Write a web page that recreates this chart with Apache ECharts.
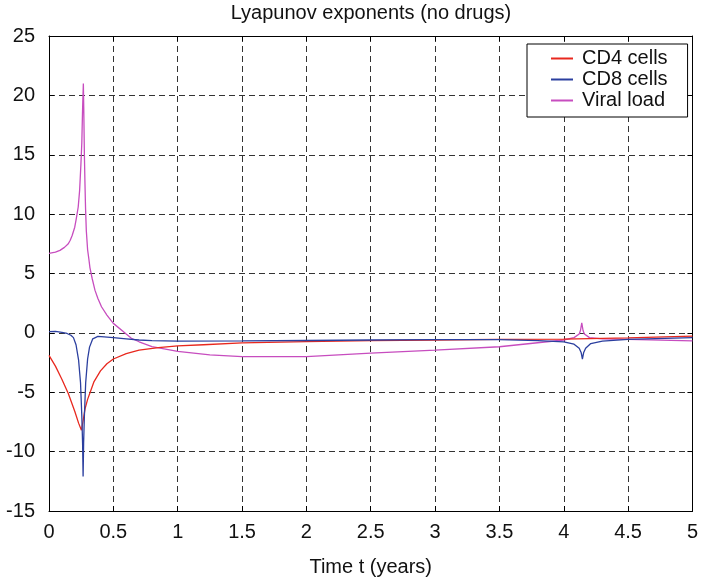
<!DOCTYPE html>
<html>
<head>
<meta charset="utf-8">
<script src="https://cdn.jsdelivr.net/npm/echarts@6/dist/echarts.min.js"></script>
<style>html,body{margin:0;padding:0;background:#fff}#chart{width:701px;height:583px}</style>
</head>
<body>
<div id="chart"></div>
<script>
// ---- data ----
var titleText = 'Lyapunov exponents (no drugs)';
var xAxisName = 'Time t (years)';
var seriesNames = ['CD4 cells', 'CD8 cells', 'Viral load'];

var cd4Time   = [0, 0.05, 0.1, 0.15, 0.2, 0.23, 0.252, 0.265, 0.28, 0.3, 0.32, 0.35, 0.4, 0.45, 0.5, 0.6, 0.7, 0.85, 1.0, 1.2, 1.5, 2.0, 2.5, 3.0, 3.5, 4.0, 4.5, 5.0];
var cd4Values = [-1.9, -2.8, -3.9, -5.1, -6.6, -7.6, -8.2, -7.4, -6.4, -5.6, -5.0, -4.1, -3.2, -2.6, -2.2, -1.75, -1.45, -1.25, -1.1, -1.0, -0.85, -0.73, -0.65, -0.6, -0.55, -0.52, -0.42, -0.28];

var cd8Time   = [0, 0.05, 0.1, 0.14, 0.17, 0.19, 0.21, 0.23, 0.245, 0.255, 0.261, 0.265, 0.269, 0.275, 0.285, 0.3, 0.315, 0.34, 0.38, 0.5, 0.6, 0.7, 0.8, 1.0, 1.5, 2.0, 2.5, 3.0, 3.5, 3.8, 4.0, 4.08, 4.12, 4.135, 4.145, 4.155, 4.17, 4.21, 4.3, 4.5, 5.0];
var cd8Values = [0.1, 0.12, 0.05, -0.05, -0.2, -0.4, -1.0, -2.3, -4.2, -7.0, -9.3, -12.1, -9.3, -7.0, -4.2, -2.2, -1.2, -0.5, -0.3, -0.4, -0.5, -0.6, -0.65, -0.7, -0.68, -0.64, -0.6, -0.56, -0.56, -0.65, -0.75, -0.95, -1.3, -1.65, -2.2, -1.65, -1.3, -0.9, -0.7, -0.55, -0.4];

var viralTime   = [0, 0.05, 0.085, 0.12, 0.15, 0.165, 0.18, 0.2, 0.21, 0.227, 0.238, 0.248, 0.255, 0.26, 0.263, 0.267, 0.27, 0.275, 0.279, 0.284, 0.29, 0.295, 0.3, 0.31, 0.318, 0.335, 0.357, 0.38, 0.408, 0.45, 0.5, 0.6, 0.64, 0.7, 0.8, 1.0, 1.25, 1.5, 2.0, 2.5, 3.0, 3.5, 4.0, 4.08, 4.12, 4.13, 4.14, 4.15, 4.16, 4.2, 4.3, 4.5, 5.0];
var viralValues = [6.7, 6.8, 6.95, 7.2, 7.5, 7.8, 8.2, 8.9, 9.5, 10.6, 12.0, 14.2, 16.0, 18.4, 19.6, 21.0, 19.0, 15.0, 12.8, 10.5, 8.6, 7.8, 7.0, 6.2, 5.5, 4.6, 3.6, 2.9, 2.2, 1.5, 0.8, -0.1, -0.45, -0.75, -1.15, -1.55, -1.85, -2.0, -2.0, -1.7, -1.45, -1.17, -0.6, -0.4, -0.1, 0.2, 0.85, 0.2, -0.1, -0.4, -0.5, -0.55, -0.68];

var xMin = 0, xMax = 5, xStep = 0.5;
var yMin = -15, yMax = 25, yStep = 5;

// ---- build chart ----
function pairs(ts, vs) { return ts.map(function (t, i) { return [t, vs[i]]; }); }
var FONT = "'Liberation Sans', Arial, Helvetica, sans-serif";
var TXT = '#111';
var colors = ['#e8281e', '#2b3f9f', '#c74dbf'];

var chart = echarts.init(document.getElementById('chart'), null, {renderer: 'canvas'});
var gridLine = {show: true, lineStyle: {color: '#333', width: 1, type: [6, 4]}};
var axLine = {show: true, onZero: false, lineStyle: {color: '#000', width: 1}};
var tick = {show: true, inside: true, length: 5, lineStyle: {color: '#000'}};

chart.setOption({
  animation: false,
  backgroundColor: '#fff',
  textStyle: {fontFamily: FONT},
  title: {
    text: titleText, left: 371, top: 3, textAlign: 'center', padding: 0,
    textStyle: {fontFamily: FONT, fontSize: 20, fontWeight: 'normal', color: TXT}
  },
  legend: {
    data: seriesNames, orient: 'vertical', left: 527, top: 44,
    padding: [4, 20, 6, 24], itemGap: 0, itemWidth: 22, itemHeight: 2, icon: 'rect',
    backgroundColor: '#fff', borderColor: '#000', borderWidth: 1, borderRadius: 0,
    textStyle: {fontFamily: FONT, fontSize: 20, color: TXT, lineHeight: 21, padding: [0, 0, 0, 4]}
  },
  grid: {left: 49, right: 6, top: 36, bottom: 72, containLabel: false},
  xAxis: [{
    type: 'value', min: xMin, max: xMax, interval: xStep, position: 'bottom',
    name: xAxisName, nameLocation: 'middle', nameGap: 46,
    nameTextStyle: {fontFamily: FONT, fontSize: 20, color: TXT},
    axisLine: axLine, axisTick: tick, splitLine: gridLine,
    axisLabel: {fontFamily: FONT, fontSize: 20, color: TXT, margin: 11}
  }, {
    type: 'value', min: xMin, max: xMax, interval: xStep, position: 'top',
    axisLine: axLine, axisTick: tick, splitLine: {show: false}, axisLabel: {show: false}
  }],
  yAxis: [{
    type: 'value', min: yMin, max: yMax, interval: yStep, position: 'left',
    axisLine: axLine, axisTick: tick, splitLine: gridLine,
    axisLabel: {fontFamily: FONT, fontSize: 20, color: TXT, margin: 14}
  }, {
    type: 'value', min: yMin, max: yMax, interval: yStep, position: 'right',
    axisLine: axLine, axisTick: tick, splitLine: {show: false}, axisLabel: {show: false}
  }],
  series: [
    {name: seriesNames[0], type: 'line', data: pairs(cd4Time, cd4Values), showSymbol: false, symbol: 'none',
     lineStyle: {color: colors[0], width: 1.3}, itemStyle: {color: colors[0]}, z: 3},
    {name: seriesNames[1], type: 'line', data: pairs(cd8Time, cd8Values), showSymbol: false, symbol: 'none',
     lineStyle: {color: colors[1], width: 1.3}, itemStyle: {color: colors[1]}, z: 4},
    {name: seriesNames[2], type: 'line', data: pairs(viralTime, viralValues), showSymbol: false, symbol: 'none',
     lineStyle: {color: colors[2], width: 1.3}, itemStyle: {color: colors[2]}, z: 2}
  ]
});
</script>
</body>
</html>
